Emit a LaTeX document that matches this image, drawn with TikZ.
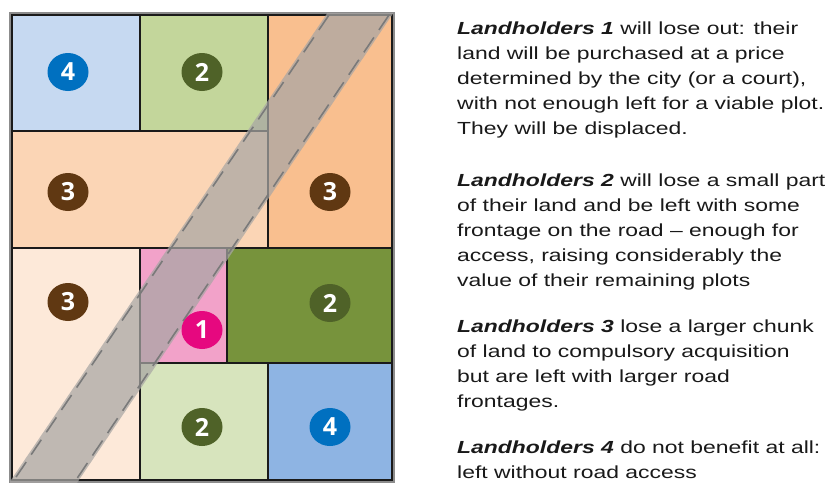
\documentclass[tikz,border=0pt]{standalone}
\usepackage{fontspec}
\setmainfont{Liberation Sans}[FakeStretch=1.31]
\newfontfamily\badgefont{Open Sans}
\usetikzlibrary{positioning,shapes.geometric}
\definecolor{plotline}{HTML}{1A1A1A}
\definecolor{lotblue}{HTML}{C6D9F1}
\definecolor{lotgreen}{HTML}{C3D69B}
\definecolor{lotorange}{HTML}{F9BF8F}
\definecolor{lotpeach}{HTML}{FBD5B5}
\definecolor{lotcream}{HTML}{FDE9D9}
\definecolor{lotpink}{HTML}{F2A2C9}
\definecolor{lotolive}{HTML}{77933C}
\definecolor{lotpale}{HTML}{D7E4BD}
\definecolor{lotsky}{HTML}{8EB4E3}
\definecolor{badgeblue}{HTML}{0070C0}
\definecolor{badgegreen}{HTML}{4F6228}
\definecolor{badgebrown}{HTML}{603812}
\definecolor{badgepink}{HTML}{E6087F}
\definecolor{roadgrey}{HTML}{A8A6A4}
\definecolor{roadline}{HTML}{7A7A7A}
\tikzset{
  lotedge/.style  = {draw=plotline, line width=2pt},
  halo/.style     = {draw=black!45, line width=2.5pt},
  road/.style     = {fill=roadgrey, fill opacity=0.72},
  roadedge/.style = {draw=roadline, line width=1.6pt, dash pattern=on 18pt off 9pt},
  badge/.style    = {ellipse, inner sep=0pt, minimum width=41pt, minimum height=38pt,
                     text=white, font=\badgefont\bfseries\fontsize{25}{25}\selectfont},
  note/.style     = {anchor=base west, align=left, inner sep=0pt, text=black!90,
                     font=\fontsize{17.5}{25}\selectfont},
}
\newcommand{\lh}[1]{\textbf{\textit{Landholders #1}}}

\begin{document}
\begin{tikzpicture}[x=1pt,y=-1pt]
  \useasboundingbox (0,0) rectangle (829,482);
  % plots
  \draw[halo] (10,13) rectangle (394,482);
  \fill[lotblue]   (12,15)   rectangle (140,131);
  \fill[lotgreen]  (140,15)  rectangle (268,131);
  \fill[lotorange] (268,15)  rectangle (392,248);
  \fill[lotpeach]  (12,131)  rectangle (268,248);
  \fill[lotcream]  (12,248)  rectangle (140,480);
  \fill[lotpink]   (140,248) rectangle (227,363);
  \fill[lotolive]  (227,248) rectangle (392,363);
  \fill[lotpale]   (140,363) rectangle (268,480);
  \fill[lotsky]    (268,363) rectangle (392,480);
  \draw[lotedge] (12,15) rectangle (392,480);
  \draw[lotedge] (140,15) -- (140,131) (268,15) -- (268,248)
                 (12,131) -- (268,131) (12,248) -- (392,248)
                 (140,248) -- (140,480) (227,248) -- (227,363)
                 (140,363) -- (392,363) (268,363) -- (268,480);
  % road
  \begin{scope}
    \clip (10,13) rectangle (394,482);
    \fill[road] (329.4,10) -- (395.4,10) -- (75.6,485) -- (7.6,485) -- cycle;
  \end{scope}
  \draw[roadedge] (329,15) -- (14,480);
  \draw[roadedge] (389,15) -- (76,480);
  % badges
  \node[badge,fill=badgeblue]  (b4a) at (68,72)   {4};
  \node[badge,fill=badgegreen] (b2a) at (202,72)  {2};
  \node[badge,fill=badgebrown] (b3m) at (68,192)  {3};
  \node[badge,fill=badgebrown] (b3r) at (330,192) {3};
  \node[badge,fill=badgebrown] (b3l) at (68,302)  {3};
  \node[badge,fill=badgepink]  (b1)  at (202,330) {1};
  \node[badge,fill=badgegreen] (b2d) at (330,303) {2};
  \node[badge,fill=badgegreen] (b2l) at (202,427) {2};
  \node[badge,fill=badgeblue]  (b4b) at (330,427) {4};
  % notes (anchored on their last line)
  \node[note] (note1) at (457,134) {\lh{1} will lose out: their\\
    land will be purchased at a price\\determined by the city (or a court),\\
    with not enough left for a viable plot.\\They will be displaced.};
  \node[note] (note2) at (457,286) {\lh{2} will lose a small part\\
    of their land and be left with some\\frontage on the road -- enough for\\
    access, raising considerably the\\value of their remaining plots};
  \node[note] (note3) at (457,407) {\lh{3} lose a larger chunk\\
    of land to compulsory acquisition\\but are left with larger road\\frontages.};
  \node[note] (note4) at (457,478) {\lh{4} do not benefit at all:\\
    left without road access};
\end{tikzpicture}
\end{document}
